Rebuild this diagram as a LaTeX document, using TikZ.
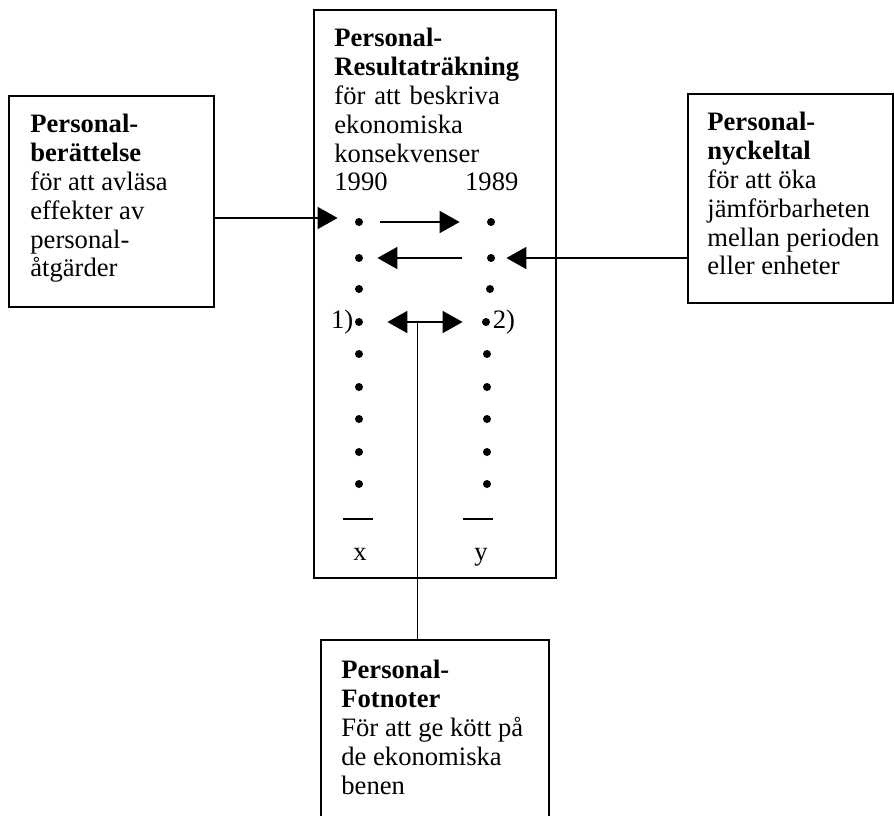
\documentclass[tikz,border=0pt]{standalone}
\usepackage{fontspec}
\setmainfont{Liberation Serif}
\usetikzlibrary{arrows.meta,positioning,calc}
\AtBeginDocument{\fontsize{13.3}{14.4}\selectfont}

\begin{document}
\begin{tikzpicture}[
  x=0.5pt, y=-0.5pt,
  >={Triangle[length=10pt,width=11pt]},
  % Framed box, size set per box
  frame/.style = {draw, line width=1pt, inner sep=0pt},
  % Text block set inside a frame
  txt/.style   = {inner sep=0pt, align=left, anchor=north west,
                  font=\fontsize{13.3}{14.4}\selectfont},
  % Bullet in the two year columns
  dot/.style   = {circle, fill, inner sep=0pt, minimum size=4pt},
  lnk/.style   = {line width=0.9pt},
  arr/.style   = {->, line width=0.9pt}
]
\useasboundingbox (0,0) rectangle (894,815);

% Frames (pixel grid, y downwards)
\node[frame, minimum width=102.5pt, minimum height=105.5pt](BER) at (111.5,201.5){};
\node[frame, minimum width=121pt,   minimum height=284pt]  (RES) at (435,294){};
\node[frame, minimum width=102.5pt, minimum height=104.5pt](NYC) at (790.5,198.5){};
\node[frame, minimum width=114pt,   minimum height=110pt, anchor=north](FOT) at (435,639){};

% Texts in the frames
\node[txt](BERt) at ($(BER.north west)+(22,19)$)
  {\textbf{Personal-}\\\textbf{berättelse}\\för att avläsa\\effekter av\\personal-\\åtgärder};
\node[txt, text width=92pt](REStxt) at ($(RES.north west)+(21,19)$)
  {\textbf{Personal-}\\\textbf{Resultaträkning}\\för att beskriva\\ekonomiska\\konsekvenser\\1990\hfill 1989};
\node[txt](NYCt) at ($(NYC.north west)+(20,19)$)
  {\textbf{Personal-}\\\textbf{nyckeltal}\\för att öka\\jämförbarheten\\mellan perioden\\eller enheter};
\node[txt](FOTt) at ($(FOT.north west)+(21,21)$)
  {\textbf{Personal-}\\\textbf{Fotnoter}\\För att ge kött på\\de ekonomiska\\benen};

% Year columns
\foreach \i/\y/\xr in {1/222/491,2/258/491,3/289/490,4/322/486,5/354/487,
                       6/387/487,7/419/487,8/452/487,9/484/487}{
  \node[dot](L\i) at (359,\y){};
  \node[dot](R\i) at (\xr,\y){};
}
\node[txt, anchor=east](n1) at ([xshift=-0.5pt]L4.west){1)};
\node[txt, anchor=west](n2) at ([xshift=1pt]R4.east){2)};

% Sum rules and totals
\draw[line width=0.6pt](343,519)--(373,519);
\draw[line width=0.6pt](463,519)--(493,519);
\node[txt, anchor=base](X) at (360,560){x};
\node[txt, anchor=base](Y) at (481,560){y};

% Arrows between the columns
\draw[arr, shorten <=8.5pt, shorten >=13.5pt](L1)--(R1);
\draw[arr, shorten <=12.5pt, shorten >=7pt](R2)--(L2);
\draw[<->, lnk, shorten <=12pt, shorten >=9.5pt](L4)--(R4);

% Links to the outer boxes
\draw[arr, shorten >=8.5pt]([yshift=2pt]BER.east |- L1)--([yshift=2pt]L1.west);
\draw[arr, shorten >=5.5pt](NYC.west |- R2)--(R2);
\coordinate(M) at ($(L4)!0.46!(R4)$);
\draw[lnk](M)--(M |- FOT.north);

\end{tikzpicture}
\end{document}
